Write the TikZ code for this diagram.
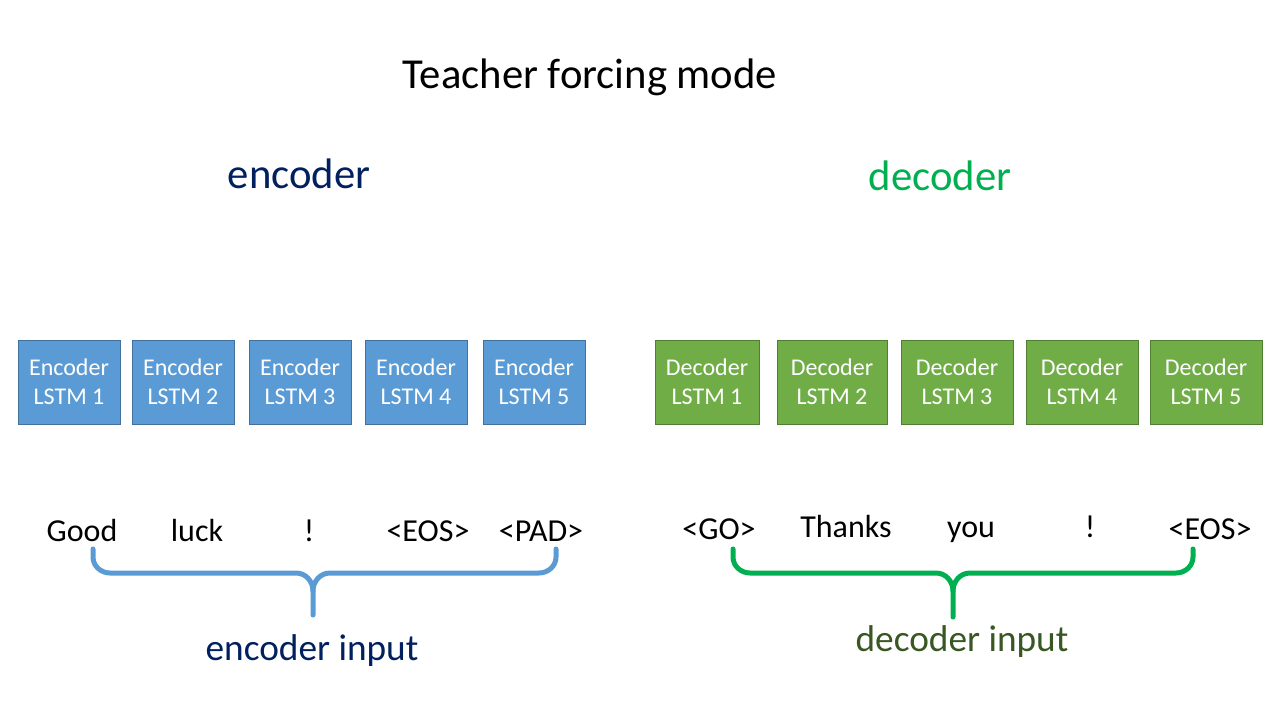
\documentclass[tikz,border=0pt]{standalone}
\usepackage{fontspec}
\setmainfont{Carlito}
\definecolor{encfill}{HTML}{5B9BD5}
\definecolor{encdraw}{HTML}{41719C}
\definecolor{decfill}{HTML}{70AD47}
\definecolor{decdraw}{HTML}{507E32}
\definecolor{navy}{HTML}{002060}
\definecolor{brightgreen}{HTML}{00B050}
\definecolor{darkgreen}{HTML}{385723}
\tikzset{
  lstmbox/.style={draw, line width=1pt, minimum height=84pt, inner sep=0pt, align=center,
    text=white, font=\fontsize{24}{29}\selectfont},
  encbox/.style={lstmbox, fill=encfill, draw=encdraw},
  decbox/.style={lstmbox, fill=decfill, draw=decdraw},
  word/.style={anchor=base, inner sep=0pt, font=\fontsize{32}{38}\selectfont},
  header/.style={anchor=base, inner sep=0pt, font=\fontsize{42.7}{50}\selectfont},
  caption/.style={anchor=base, inner sep=0pt, font=\fontsize{37.3}{44}\selectfont},
  bracepath/.style={line width=5pt, line cap=round, line join=round},
}
\begin{document}
\begin{tikzpicture}[x=1pt,y=-1pt]
\useasboundingbox[fill=white] (0,0) rectangle (1280,720);

\node[header] (title) at (590,88) {Teacher forcing mode};
\node[header, text=navy] (enchead) at (299,188) {encoder};
\node[header, text=brightgreen] (dechead) at (940,190) {decoder};

% encoder boxes
\node[encbox, minimum width=102pt] (e1) at (69,382) {Encoder\\LSTM 1};
\node[encbox, minimum width=102pt] (e2) at (183,382) {Encoder\\LSTM 2};
\node[encbox, minimum width=102pt] (e3) at (300,382) {Encoder\\LSTM 3};
\node[encbox, minimum width=102pt] (e4) at (416,382) {Encoder\\LSTM 4};
\node[encbox, minimum width=102pt] (e5) at (534,382) {Encoder\\LSTM 5};

% decoder boxes
\node[decbox, minimum width=104pt] (d1) at (707,382) {Decoder\\LSTM 1};
\node[decbox, minimum width=110pt] (d2) at (832,382) {Decoder\\LSTM 2};
\node[decbox, minimum width=112pt] (d3) at (957,382) {Decoder\\LSTM 3};
\node[decbox, minimum width=112pt] (d4) at (1082,382) {Decoder\\LSTM 4};
\node[decbox, minimum width=112pt] (d5) at (1206,382) {Decoder\\LSTM 5};

% encoder words
\node[word] (w1) at (82,541) {Good};
\node[word] (w2) at (197,541) {luck};
\node[word] (w3) at (309,541) {!};
\node[word] (w4) at (428,541) {<EOS>};
\node[word] (w5) at (541,541) {<PAD>};

% decoder words
\node[word] (v1) at (719,539) {<GO>};
\node[word] (v2) at (846,537) {Thanks};
\node[word] (v3) at (971,537) {you};
\node[word] (v4) at (1090,537) {!};
\node[word] (v5) at (1210,539) {<EOS>};

% braces
\coordinate (eb1) at (93,549);
\coordinate (eb2) at (556,549);
\coordinate (ebm) at (313,615);
\draw[bracepath, draw=encfill]
  (eb1) -- (93,557) to[out=-90,in=180] (110,573) -- (296,573)
  to[out=0,in=90] (ebm |- 0,591) -- (ebm);
\draw[bracepath, draw=encfill]
  (ebm |- 0,591) to[out=90,in=180] (330,573) -- (539,573)
  to[out=0,in=-90] (556,557) -- (eb2);

\coordinate (db1) at (733,549);
\coordinate (db2) at (1193,549);
\coordinate (dbm) at (953,617);
\draw[bracepath, draw=brightgreen]
  (db1) -- (733,557) to[out=-90,in=180] (750,573) -- (936,573)
  to[out=0,in=90] (dbm |- 0,591) -- (dbm);
\draw[bracepath, draw=brightgreen]
  (dbm |- 0,591) to[out=90,in=180] (970,573) -- (1176,573)
  to[out=0,in=-90] (1193,557) -- (db2);

\node[caption, text=navy] (encin) at (312,660) {encoder input};
\node[caption, text=darkgreen] (decin) at (962,651) {decoder input};
\end{tikzpicture}
\end{document}
